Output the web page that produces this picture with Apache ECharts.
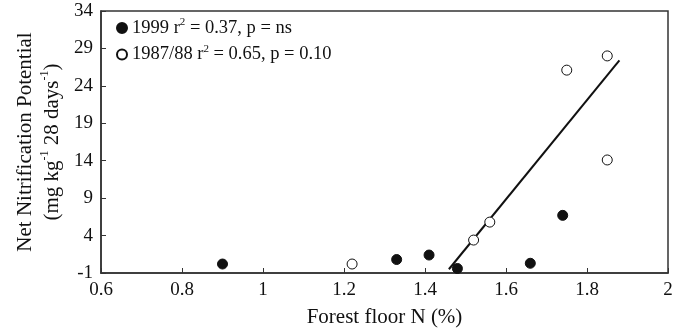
<!DOCTYPE html>
<html>
<head>
<meta charset="utf-8">
<script src="https://cdn.jsdelivr.net/npm/echarts@6/dist/echarts.min.js"></script>
<style>
  html, body { margin: 0; padding: 0; background: #fff; }
  #chart { width: 683px; height: 331px; }
</style>
</head>
<body>
<div id="chart"></div>
<script>
// 1999 samples: [forest floor N %, NNP]
var data1999 = [[0.90, 0.2], [1.33, 0.8], [1.41, 1.4], [1.48, -0.4], [1.66, 0.3], [1.74, 6.7]];
// 1987/88 samples
var data1987 = [[1.22, 0.2], [1.52, 3.4], [1.56, 5.8], [1.75, 26.1], [1.85, 28.0], [1.85, 14.1]];
// fitted line for 1987/88, end points
var fitLine = [[1.459, -0.5], [1.88, 27.4]];

var xTicks = [0.6, 0.8, 1, 1.2, 1.4, 1.6, 1.8, 2];
var yTicks = [-1, 4, 9, 14, 19, 24, 29, 34];

var serif = '"Liberation Serif", "DejaVu Serif", serif';
var ink = '#111';

var chart = echarts.init(document.getElementById('chart'));

var option = {
  backgroundColor: '#fff',
  animation: false,
  grid: {
    left: 101, right: 15, top: 11, bottom: 58,
    containLabel: false, outerBoundsMode: 'none',
    show: true, borderColor: '#333', borderWidth: 1.5, backgroundColor: 'transparent'
  },
  legend: {
    orient: 'vertical',
    left: 116, top: 17, padding: 0,
    itemWidth: 10, itemHeight: 10, itemGap: 6,
    data: ['1999', '1987/88'],
    formatter: function (name) {
      if (name === '1999') return '{a|1999 r}{s|2}{a| = 0.37, p = ns}';
      return '{a|1987/88 r}{s|2}{a| = 0.65, p = 0.10}';
    },
    textStyle: {
      fontFamily: serif, color: ink, fontSize: 18.5,
      rich: {
        a: { fontFamily: serif, fontSize: 18.5, color: ink, lineHeight: 22 },
        s: { fontFamily: serif, fontSize: 11, color: ink, verticalAlign: 'top', lineHeight: 11 }
      }
    }
  },
  xAxis: {
    type: 'value',
    min: 0.6, max: 2,
    name: 'Forest floor N (%)',
    nameLocation: 'middle', nameGap: 34,
    nameTextStyle: { fontFamily: serif, fontSize: 21, color: ink },
    axisLine: { show: true, onZero: false, lineStyle: { color: '#333', width: 1.5 } },
    axisTick: { show: true, inside: true, length: 5, customValues: xTicks, lineStyle: { color: '#333' } },
    axisLabel: { customValues: xTicks, margin: 8, fontFamily: serif, fontSize: 19, color: ink },
    splitLine: { show: false }
  },
  yAxis: {
    type: 'value',
    min: -1, max: 34,
    name: '{a|Net Nitrification Potential}\n{a|(mg kg}{s|-1}{a| 28 days}{s|-1}{a|)}',
    nameLocation: 'middle', nameGap: 35, nameRotate: 90,
    nameTextStyle: {
      fontFamily: serif, fontSize: 21, color: ink,
      rich: {
        a: { fontFamily: serif, fontSize: 21, color: ink, lineHeight: 27 },
        s: { fontFamily: serif, fontSize: 12, color: ink, verticalAlign: 'top', lineHeight: 14 }
      }
    },
    axisLine: { show: true, onZero: false, lineStyle: { color: '#333', width: 1.5 } },
    axisTick: { show: true, inside: true, length: 5, customValues: yTicks, lineStyle: { color: '#333' } },
    axisLabel: { customValues: yTicks, margin: 8, fontFamily: serif, fontSize: 19, color: ink },
    splitLine: { show: false }
  },
  series: [
    {
      name: '1999',
      type: 'scatter',
      symbol: 'circle', symbolSize: 10,
      itemStyle: { color: ink, borderColor: ink, borderWidth: 1, opacity: 1 },
      data: data1999
    },
    {
      name: '1987/88',
      type: 'scatter',
      symbol: 'circle', symbolSize: 10,
      itemStyle: { color: '#fff', borderColor: ink, borderWidth: 1, opacity: 1 },
      data: data1987,
      z: 3
    },
    {
      name: 'fit',
      type: 'line',
      symbol: 'none',
      lineStyle: { color: ink, width: 2 },
      data: fitLine,
      z: 2
    }
  ]
};

chart.setOption(option);
</script>
</body>
</html>
